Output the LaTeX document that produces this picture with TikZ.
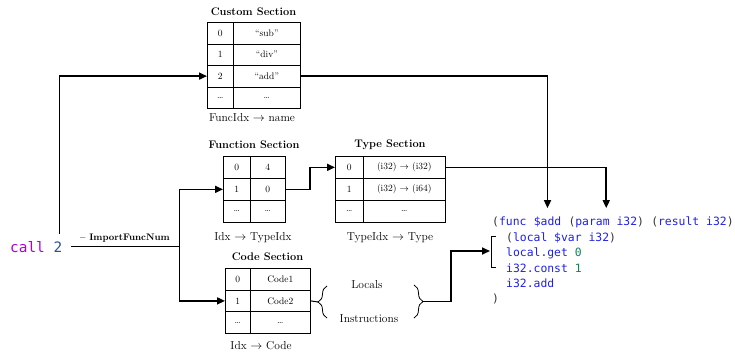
\documentclass[tikz,border=0pt]{standalone}
\usepackage{fontspec}
\newfontfamily\codefont{DejaVu Sans Mono}
\usetikzlibrary{arrows.meta,decorations.pathreplacing}
\definecolor{kw}{HTML}{1F1FE8}
\definecolor{num}{HTML}{098658}
\definecolor{par}{HTML}{333333}
\definecolor{callc}{HTML}{AF00DB}
\definecolor{twoc}{HTML}{2F4F8F}
\newcommand\tabrow[8]{%
  \node[cell,minimum width=#4pt,minimum height=#6pt] (#1a) at (#2,#3) {#7};
  \node[cell,minimum width=#5pt,minimum height=#6pt] (#1) at (#2+#4,#3) {#8};}
\begin{document}
\begin{tikzpicture}[x=1pt,y=-1pt,
  cell/.style={draw, line width=0.7pt, inner sep=0pt, anchor=north west, font=\fontsize{9.5}{11}\selectfont},
  ttl/.style={font=\fontsize{11}{13}\selectfont\bfseries},
  lbl/.style={font=\fontsize{11.5}{13}\selectfont},
  conn/.style={line width=1.6pt},
  arr/.style={conn,-{Triangle[length=8pt,width=7pt]}},
  code/.style={font=\fontsize{11.4}{13}\codefont, inner sep=0pt, anchor=base west},
  brc/.style={line width=0.8pt, decorate, decoration={brace, amplitude=9pt}},
]
\useasboundingbox (0,0) rectangle (735,354);

% Custom Section
\node[ttl] (cuT) at (253.5,12) {Custom Section};
\tabrow{cuA}{207}{22}{26}{67}{21.5}{0}{``sub''}
\tabrow{cuB}{207}{43.5}{26}{67}{21.5}{1}{``div''}
\tabrow{cuC}{207}{65}{26}{67}{21.5}{2}{``add''}
\tabrow{cuD}{207}{86.5}{26}{67}{21.5}{\dots}{\dots}
\node[lbl] (cuL) at (252,118) {FuncIdx $\to$ name};

% Function Section
\node[ttl] (fnT) at (254,145) {Function Section};
\tabrow{fnA}{223}{156}{27}{35}{22}{0}{4}
\tabrow{fnB}{223}{178}{27}{35}{22}{1}{0}
\tabrow{fnC}{223}{200}{27}{35}{22}{\dots}{\dots}
\node[lbl] (fnL) at (253,238) {Idx $\to$ TypeIdx};

% Type Section
\node[ttl] (tyT) at (390,145) {Type Section};
\tabrow{tyA}{335}{156}{28}{82}{22}{0}{(i32) $\to$ (i32)}
\tabrow{tyB}{335}{178}{28}{82}{22}{1}{(i32) $\to$ (i64)}
\tabrow{tyC}{335}{200}{28}{82}{22}{\dots}{\dots}
\node[lbl] (tyL) at (390,238) {TypeIdx $\to$ Type};

% Code Section
\node[ttl] (coT) at (267.5,257) {Code Section};
\tabrow{coA}{225}{268}{25}{60}{21.7}{0}{Code1}
\tabrow{coB}{225}{289.7}{25}{60}{21.7}{1}{Code2}
\tabrow{coC}{225}{311.4}{25}{60}{21.7}{\dots}{\dots}
\node[lbl] (coL) at (261,346) {Idx $\to$ Code};

% Locals / Instructions
\node[lbl] (loc) at (367,285) {Locals};
\node[lbl] (ins) at (369,319) {Instructions};
\draw[brc] (327,318) -- (327,286);
\coordinate (lb) at (318,302);
\draw[brc] (414,285) -- (414,318);
\coordinate (rb) at (423,301.5);

% call
\node[font=\fontsize{14.4}{16}\codefont, inner sep=0pt, anchor=base west] (call) at (10,252)
  {\textcolor{callc}{call} \textcolor{twoc}{2}};
\node[font=\fontsize{9.5}{11}\selectfont\bfseries] (ifn) at (125,238) {-- ImportFuncNum};

% code
\node[code] (l1a) at (492,225) {\textcolor{par}{(}\textcolor{kw}{func}};
\node[code] (l1b) at ([xshift=6.86pt]l1a.base east) {\textcolor{kw}{\$add}};
\node[code] (l1c) at ([xshift=6.86pt]l1b.base east) {\textcolor{par}{(}\textcolor{kw}{param i32}\textcolor{par}{)}};
\node[code] (l1d) at ([xshift=6.86pt]l1c.base east) {\textcolor{par}{(}\textcolor{kw}{result i32}\textcolor{par}{)}};
\node[code] (l2) at (506,241) {\textcolor{par}{(}\textcolor{kw}{local \$var i32}\textcolor{par}{)}};
\node[code] (l3) at (506,256.5) {\textcolor{kw}{local.get} \textcolor{num}{0}};
\node[code] (l4) at (506,272) {\textcolor{kw}{i32.const} \textcolor{num}{1}};
\node[code] (l5) at (506,287) {\textcolor{kw}{i32.add}};
\node[code] (l6) at (492,302) {\textcolor{par}{)}};
\draw[line width=0.8pt] (496,236) -- (491,236) -- (491,267) -- (496,267);
\coordinate (bk) at (490,251);

% connectors
\draw[conn] ([xshift=9pt]call.east) -- ++(108,0) coordinate (sp);
\draw[arr] ([xshift=-3pt,yshift=7pt]call.north east) |- (cuCa.west);
\draw[arr] (sp) |- (fnBa.west);
\draw[arr] (sp) |- (coBa.west);
\draw[arr] (fnB.east) -- ++(24,0) |- (tyAa.west);
\draw[arr] (cuC.east) -| ([yshift=8pt]l1b.north);
\draw[arr] (tyA.east) -| ([yshift=8pt]l1c.north);
\draw[line width=1pt] (coB.east) -- (lb);
\draw[arr] (rb) -- ++(28,0) |- (bk);
\end{tikzpicture}
\end{document}
